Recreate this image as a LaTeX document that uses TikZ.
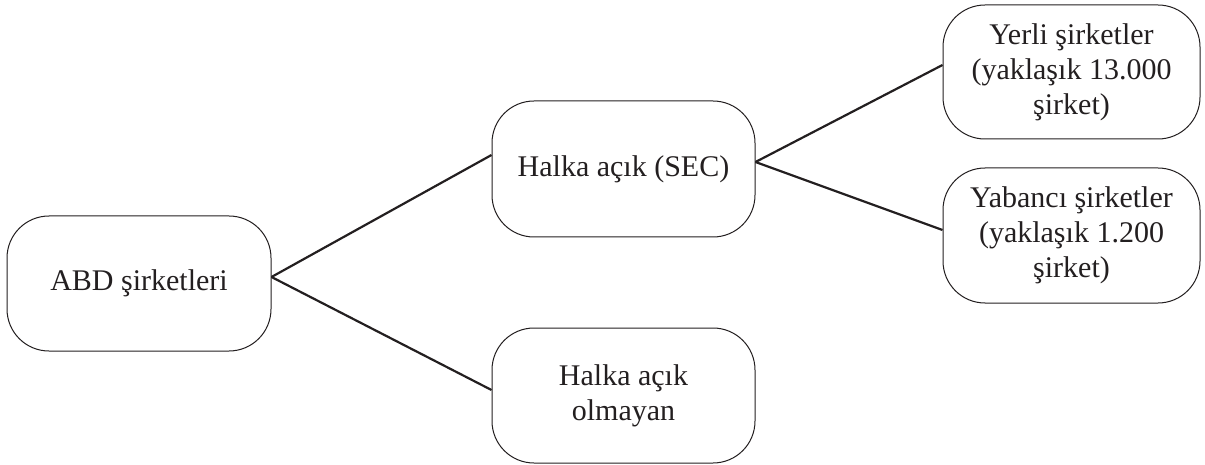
\documentclass[tikz,border=0pt]{standalone}
\usepackage{fontspec}
\setmainfont{Liberation Serif}
\definecolor{ink}{HTML}{231F20}
\begin{document}
\begin{tikzpicture}[x=1pt,y=-1pt,
  box/.style={draw=ink,line width=1pt,rounded corners=42pt,align=center,
    inner sep=0pt,text=ink,font=\fontsize{30}{35}\selectfont},
  link/.style={draw=ink,line width=2.2pt}]
\useasboundingbox (0,0) rectangle (1205,465);
\node[box,minimum width=264pt,minimum height=135pt] (abd) at (139,283.5) {ABD şirketleri};
\node[box,minimum width=263pt,minimum height=136pt] (sec) at (623.5,169) {Halka açık (SEC)};
\node[box,minimum width=263pt,minimum height=135pt] (olm) at (623.5,395.5) {Halka açık\\olmayan};
\node[box,minimum width=257pt,minimum height=134pt] (yer) at (1071.5,72) {Yerli şirketler\\(yaklaşık 13.000\\şirket)};
\node[box,minimum width=257pt,minimum height=135pt] (yab) at (1071.5,235.5) {Yabancı şirketler\\(yaklaşık 1.200\\şirket)};
\draw[link] ([yshift=6.5pt]abd.east) -- ([yshift=14pt]sec.west);
\draw[link] ([yshift=6.5pt]abd.east) -- ([yshift=5.5pt]olm.west);
\draw[link] ([yshift=7pt]sec.east) -- ([yshift=7pt]yer.west);
\draw[link] ([yshift=7pt]sec.east) -- ([yshift=5.5pt]yab.west);
\end{tikzpicture}
\end{document}
